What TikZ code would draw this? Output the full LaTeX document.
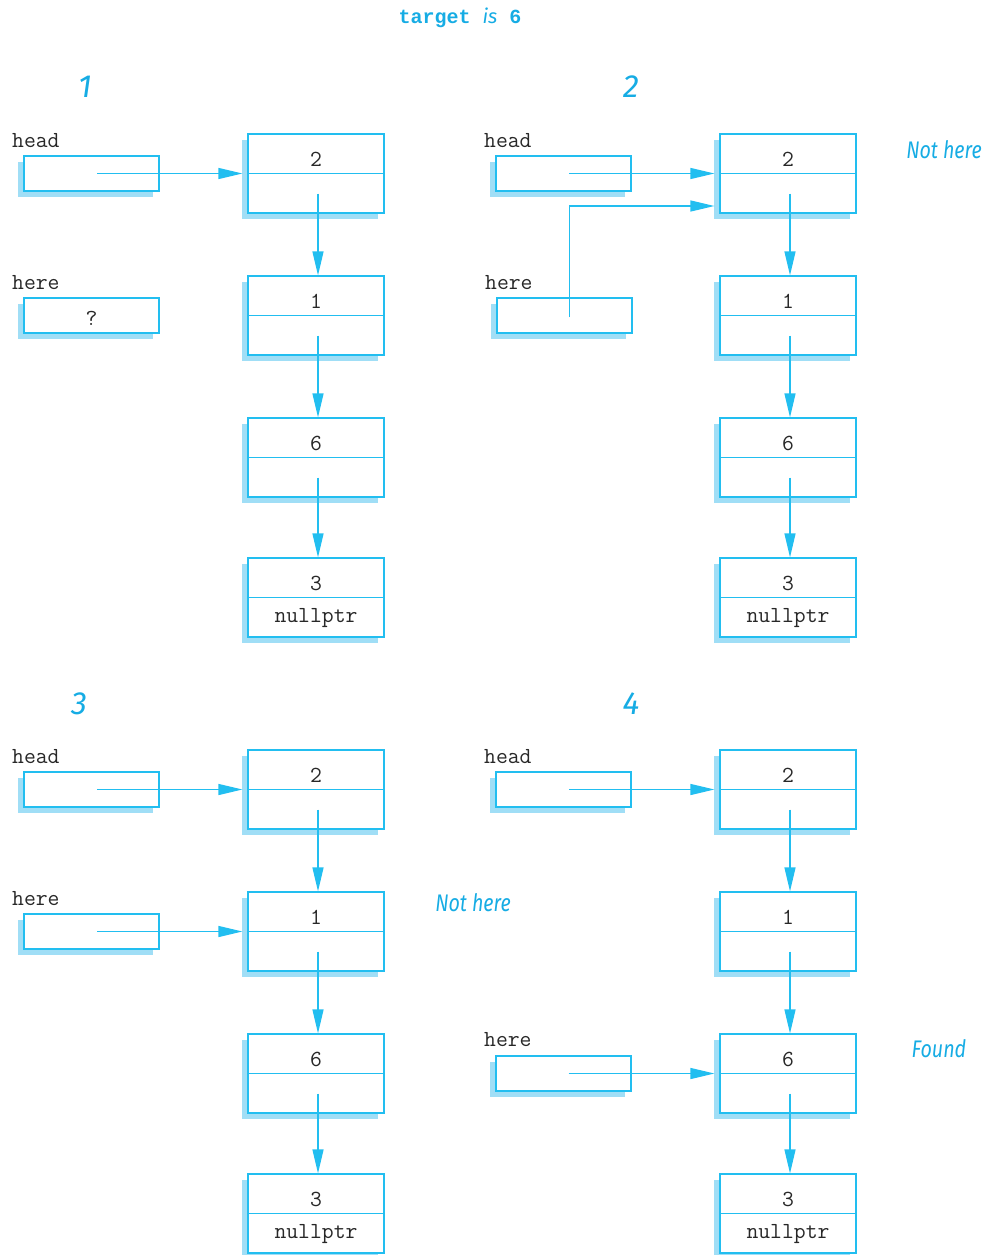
\documentclass[tikz,border=0pt]{standalone}
\usepackage{fontspec}
\newfontfamily\handfont{Fira Sans}
\newfontfamily\titlemono{Liberation Mono}
\usetikzlibrary{arrows.meta,shadows}
\definecolor{linec}{RGB}{34,190,240}
\definecolor{shadowc}{RGB}{160,222,246}
\definecolor{accent}{RGB}{22,172,228}
\definecolor{txt}{RGB}{40,40,40}
\tikzset{
  shadowed/.style={drop shadow={shadow xshift=-6pt, shadow yshift=-6pt, fill=shadowc, opacity=1, draw=none}},
  ptrbox/.style={draw=linec, line width=1.2pt, fill=white, minimum width=135pt, minimum height=35pt, inner sep=0pt, shadowed},
  cell/.style={draw=linec, line width=1.2pt, fill=white, minimum width=136pt, minimum height=79pt, inner sep=0pt, shadowed},
  divider/.style={draw=linec, line width=1.3pt},
  lbl/.style={anchor=west, inner sep=0pt, text=txt, font=\fontsize{23}{23}\selectfont\ttfamily},
  val/.style={inner sep=0pt, text=txt, font=\fontsize{23}{23}\selectfont\ttfamily},
  ptr/.style={draw=linec, line width=1.3pt, -{Triangle[length=24pt,width=11pt]}, shorten >=5pt},
  vptr/.style={draw=linec, line width=1.3pt, -{Triangle[length=24pt,width=11pt]}},
  num/.style={inner sep=0pt, text=accent, font=\fontsize{32}{32}\selectfont\handfont\itshape},
  note/.style={inner sep=0pt, text=accent, font=\fontsize{24}{24}\selectfont\handfont\itshape},
}
\newcommand\listpanel[3]{%
\begin{scope}[shift={(#2,#3)}]
  \node[lbl] (#1hl) at (12,141) {head};
  \node[ptrbox] (#1h) at (91.5,173.5) {};
  \node[cell] (#1a) at (316,173.5) {};
  \node[cell] (#1b) at (316,315.5) {};
  \node[cell] (#1c) at (316,457.5) {};
  \node[cell] (#1d) at (316,597.5) {};
  \foreach \n/\v in {a/2,b/1,c/6,d/3} {
    \draw[divider] (#1\n.west) -- (#1\n.east);
    \node[val] (#1\n v) at ([yshift=14.5pt]#1\n.center) {\v};
  }
  \node[val] (#1null) at ([yshift=-21pt]#1d.center) {nullptr};
  \draw[ptr] ([xshift=5.5pt]#1h.center) -- (#1a.west);
  \draw[vptr] ([xshift=2pt,yshift=20pt]#1a.south) -- ([xshift=2pt]#1b.north);
  \draw[vptr] ([xshift=2pt,yshift=20pt]#1b.south) -- ([xshift=2pt]#1c.north);
  \draw[vptr] ([xshift=2pt,yshift=20pt]#1c.south) -- ([xshift=2pt]#1d.north);
\end{scope}}
\begin{document}
\begin{tikzpicture}[x=1pt,y=-1pt]
\useasboundingbox (0,0) rectangle (989,1255);
\node[inner sep=0pt, text=accent] (title) at (460,18)
  {\fontsize{20}{20}\selectfont\titlemono\bfseries target {\handfont\mdseries\itshape is} 6};
\node[num] (p1) at (85,87) {1};
\node[num] (p2) at (631,87) {2};
\node[num] (p3) at (79,704) {3};
\node[num] (p4) at (631,704) {4};
\listpanel{A}{0}{0}
\listpanel{B}{472}{0}
\listpanel{C}{0}{616}
\listpanel{D}{472}{616}
% panel 1
\node[lbl] (Ahl2) at (12,283) {here};
\node[ptrbox] (Ahere) at (91.5,315.5) {};
\node[val] (Aq) at (91.5,318) {?};
% panel 2
\node[lbl] (Bhl2) at (485,283) {here};
\node[ptrbox] (Bhere) at (564.5,315.5) {};
\draw[ptr] ([xshift=5pt,yshift=-1.5pt]Bhere.center) |- ([yshift=-32.5pt]Ba.west);
\node[note] (Bnote) at (944,150) {\scalebox{0.82}[1]{Not here}};
% panel 3
\node[lbl] (Chl2) at (12,899) {here};
\node[ptrbox] (Chere) at (91.5,931.5) {};
\draw[ptr] ([xshift=5.5pt]Chere.center) -- (Cb.west);
\node[note] (Cnote) at (473,903) {\scalebox{0.82}[1]{Not here}};
% panel 4
\node[lbl] (Dhl2) at (484,1040) {here};
\node[ptrbox] (Dhere) at (563.5,1073.5) {};
\draw[ptr] ([xshift=5pt]Dhere.center) -- (Dc.west);
\node[note] (Dnote) at (939,1049) {\scalebox{0.82}[1]{Found}};
\end{tikzpicture}
\end{document}
